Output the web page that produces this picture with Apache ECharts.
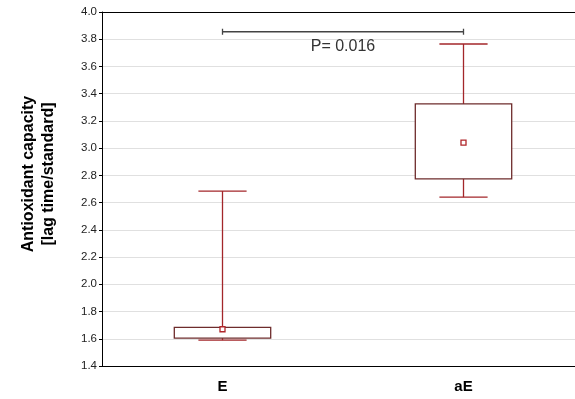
<!DOCTYPE html>
<html>
<head>
<meta charset="UTF-8">
<title>Antioxidant capacity</title>
<script src="https://cdn.jsdelivr.net/npm/echarts@6/dist/echarts.min.js"></script>
<style>
html,body{margin:0;padding:0;background:#fff}
#main{width:575px;height:399px}
</style>
</head>
<body>
<div id="main"></div>
<script>
// groups and box statistics
var categories = ['E', 'aE'];
var lowerWhisker = [1.59, 2.64];
var boxLow = [1.605, 2.775];
var boxHigh = [1.684, 3.325];
var upperWhisker = [2.685, 3.765];
var midPoint = [1.67, 3.04];
// significance bracket between the two groups
var bracketLevel = 3.855;
var pLabelLevel = 3.745;
var pLabel = 'P= 0.016';
var yTicks = { min: 1.4, max: 4.0, step: 0.2 };

var boxData = categories.map(function (c, i) {
	return [i, lowerWhisker[i], boxLow[i], boxHigh[i], upperWhisker[i], midPoint[i]];
});

function renderBox(params, api) {
	var i = api.value(0);
	var band = api.size([1, 0])[0];
	var boxW = band * 0.4;
	var capW = band * 0.2;
	var pLow = api.coord([i, api.value(1)]);
	var pQ1 = api.coord([i, api.value(2)]);
	var pQ3 = api.coord([i, api.value(3)]);
	var pHigh = api.coord([i, api.value(4)]);
	var pMid = api.coord([i, api.value(5)]);
	var x = pLow[0];
	var whisk = { stroke: '#a3262a', lineWidth: 1.3 };
	return {
		type: 'group',
		children: [
			{ type: 'line', shape: { x1: x, y1: pHigh[1], x2: x, y2: pQ3[1] }, style: whisk },
			{ type: 'line', shape: { x1: x, y1: pQ1[1], x2: x, y2: pLow[1] }, style: whisk },
			{ type: 'line', shape: { x1: x - capW / 2, y1: pHigh[1], x2: x + capW / 2, y2: pHigh[1] }, style: whisk },
			{ type: 'line', shape: { x1: x - capW / 2, y1: pLow[1], x2: x + capW / 2, y2: pLow[1] }, style: whisk },
			{ type: 'rect', shape: { x: x - boxW / 2, y: pQ3[1], width: boxW, height: pQ1[1] - pQ3[1] },
				style: { fill: '#fff', stroke: '#6e2c2c', lineWidth: 1.3 } },
			{ type: 'rect', shape: { x: x - 2.5, y: pMid[1] - 2.5, width: 5, height: 5 },
				style: { fill: '#fff', stroke: '#b0262a', lineWidth: 1.3 } }
		]
	};
}

function renderBracket(params, api) {
	var a = api.coord([api.value(0), api.value(2)]);
	var b = api.coord([api.value(1), api.value(2)]);
	var t = api.coord([api.value(0), api.value(3)]);
	var st = { stroke: '#444', lineWidth: 1.3 };
	return {
		type: 'group',
		children: [
			{ type: 'line', shape: { x1: a[0], y1: a[1], x2: b[0], y2: b[1] }, style: st },
			{ type: 'line', shape: { x1: a[0], y1: a[1] - 3, x2: a[0], y2: a[1] + 3 }, style: st },
			{ type: 'line', shape: { x1: b[0], y1: b[1] - 3, x2: b[0], y2: b[1] + 3 }, style: st },
			{ type: 'text', x: (a[0] + b[0]) / 2, y: t[1],
				style: { text: pLabel, fill: '#333', font: '16px "Liberation Sans", Arial, sans-serif',
					align: 'center', verticalAlign: 'middle' } }
		]
	};
}

var chart = echarts.init(document.getElementById('main'));
chart.setOption({
	animation: false,
	grid: { left: 102, right: -9, top: 12, bottom: 33, outerBoundsMode: 'none', containLabel: false },
	xAxis: [{
		type: 'category',
		data: categories,
		position: 'bottom',
		boundaryGap: true,
		axisLine: { lineStyle: { color: '#000', width: 1 } },
		axisTick: { alignWithLabel: true, inside: true, length: 3, lineStyle: { color: '#000' } },
		axisLabel: { margin: 13, color: '#000', fontWeight: 'bold', fontSize: 15,
			fontFamily: '"Liberation Sans", Arial, sans-serif' },
		splitLine: { show: false }
	}, {
		type: 'category',
		data: categories,
		position: 'top',
		boundaryGap: true,
		axisLine: { lineStyle: { color: '#000', width: 1 } },
		axisTick: { alignWithLabel: true, inside: true, length: 3, lineStyle: { color: '#000' } },
		axisLabel: { show: false },
		splitLine: { show: false }
	}],
	yAxis: {
		type: 'value',
		min: yTicks.min,
		max: yTicks.max,
		interval: yTicks.step,
		name: 'Antioxidant capacity\n[lag time/standard]',
		nameLocation: 'middle',
		nameGap: 43,
		nameRotate: 90,
		nameTextStyle: { color: '#000', fontWeight: 'bold', fontSize: 16, lineHeight: 20,
			fontFamily: '"Liberation Sans", Arial, sans-serif', padding: [0, 0, 0, 30] },
		axisLine: { show: true, lineStyle: { color: '#000', width: 1 } },
		axisTick: { show: true, inside: false, length: 3, lineStyle: { color: '#000' } },
		axisLabel: { color: '#222', fontSize: 11.5, margin: 5,
			fontFamily: '"Liberation Sans", Arial, sans-serif',
			formatter: function (v) { return v.toFixed(1); } },
		splitLine: { show: true, lineStyle: { color: '#e0e0e0', width: 1 } }
	},
	series: [{
		type: 'custom',
		renderItem: renderBox,
		data: boxData,
		encode: { x: 0, y: [1, 2, 3, 4, 5] },
		z: 3
	}, {
		type: 'custom',
		renderItem: renderBracket,
		data: [[0, 1, bracketLevel, pLabelLevel]],
		encode: { x: [0, 1], y: [2, 3] },
		z: 4
	}]
});
</script>
</body>
</html>
